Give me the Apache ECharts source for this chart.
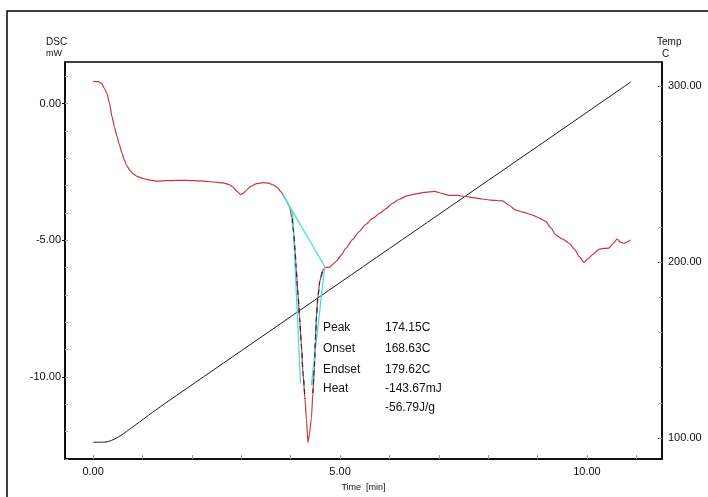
<!DOCTYPE html>
<html><head><meta charset="utf-8">
<script src="https://cdn.jsdelivr.net/npm/echarts@6/dist/echarts.min.js"></script>
<style>html,body{margin:0;padding:0;background:#fff}#c{width:708px;height:497px}</style>
</head><body><div id="c"></div>
<script>
// ---- DSC signal (mW) vs time (min)
const dscTime = [0.00,0.10,0.17,0.23,0.28,0.33,0.38,0.43,0.48,0.53,0.58,0.63,0.68,0.75,0.81,0.90,1.02,1.15,1.29,1.50,1.69,1.90,2.16,2.40,2.63,2.75,2.83,2.92,2.99,3.05,3.10,3.20,3.31,3.44,3.55,3.64,3.72,3.81,3.90,3.98,4.03,4.06,4.09,4.11,4.15,4.18,4.22,4.25,4.29,4.32,4.35,4.38,4.42,4.45,4.48,4.50,4.52,4.55,4.59,4.64,4.69,4.74,4.79,4.85,4.92,5.02,5.12,5.25,5.39,5.52,5.66,5.80,5.93,6.06,6.20,6.35,6.54,6.70,6.91,7.05,7.21,7.38,7.55,7.70,7.88,8.05,8.29,8.42,8.56,8.72,8.90,9.05,9.17,9.27,9.37,9.50,9.64,9.75,9.84,9.94,10.02,10.11,10.24,10.34,10.44,10.53,10.61,10.68,10.75,10.88];
const dscValue = [0.81,0.80,0.74,0.55,0.36,0.02,-0.46,-0.85,-1.18,-1.50,-1.79,-2.05,-2.27,-2.45,-2.57,-2.67,-2.75,-2.80,-2.84,-2.82,-2.81,-2.81,-2.83,-2.86,-2.90,-2.96,-3.05,-3.22,-3.33,-3.27,-3.17,-3.02,-2.93,-2.89,-2.91,-2.97,-3.06,-3.24,-3.50,-3.80,-4.20,-4.70,-5.40,-6.01,-7.00,-7.83,-8.90,-9.88,-10.80,-11.57,-12.40,-12.10,-11.50,-10.60,-9.64,-8.70,-7.83,-7.10,-6.50,-6.15,-6.01,-5.98,-5.99,-5.88,-5.77,-5.55,-5.29,-4.98,-4.68,-4.42,-4.20,-4.02,-3.84,-3.65,-3.50,-3.38,-3.30,-3.25,-3.21,-3.28,-3.36,-3.36,-3.40,-3.44,-3.49,-3.53,-3.56,-3.72,-3.90,-3.98,-4.08,-4.20,-4.32,-4.55,-4.81,-4.95,-5.11,-5.33,-5.59,-5.81,-5.68,-5.53,-5.33,-5.30,-5.29,-5.12,-4.95,-5.07,-5.11,-4.99];
// ---- Temperature (C) vs time (min)
const tempTime  = [0.00,0.24,0.50,0.85,1.20,1.52,3.00,5.00,7.00,9.00,10.89];
const tempValue = [97.7,97.8,100.5,107.4,114.6,121.0,149.6,188.3,227.0,265.6,302.2];
// ---- Analysis construction lines (cyan)
const baseTime = [3.85,4.69];
const baseValue = [-3.36,-5.96];
const onsetTime = [3.85,3.93,4.04,4.20];
const onsetValue = [-3.36,-3.60,-4.00,-10.24];
const endsetTime = [4.69,4.42];
const endsetValue = [-5.95,-10.30];
// integration region shown dashed on the peak flanks
const dashRanges = [[4.03,4.30],[4.45,4.64]];
// ---- Ticks
const xLabelTicks = [0,5,10];
const xMinorTicks = [0,1,2,3,4,5,6,7,8,9,10,11];
const dscLabelTicks = [-10,-5,0];
const dscMinorTicks = [-13,-12,-11,-10,-9,-8,-7,-6,-5,-4,-3,-2,-1,0,1];
const tempLabelTicks = [100,200,300];
const tempMinorTicks = [100,120,140,160,180,200,220,240,260,280,300];
// ---- Result table
const resultNames = ['Peak','Onset','Endset','Heat',''];
const resultValues = ['174.15C','168.63C','179.62C','-143.67mJ','-56.79J/g'];

const zip = (a,b) => a.map((v,i)=>[v,b[i]]);
const dscData = zip(dscTime, dscValue);
const FONT = '"Liberation Sans", Arial, sans-serif';

const X = {min:-0.57, max:11.52};
const YL = {min:-13, max:1.52};
const YR = {min:88.2, max:313.5};

const chart = echarts.init(document.getElementById('c'));
const graphics = [
  {type:'rect', shape:{x:7,y:11,width:720,height:500}, style:{fill:'none',stroke:'#000',lineWidth:1.5}, silent:true},
  {type:'text', left:46, top:37, style:{text:'DSC', font:'10px '+FONT, fill:'#111'}},
  {type:'text', left:46, top:49, style:{text:'mW', font:'9px '+FONT, fill:'#111'}},
  {type:'text', left:657, top:37, style:{text:'Temp', font:'10px '+FONT, fill:'#111'}},
  {type:'text', left:662, top:49, style:{text:'C', font:'10px '+FONT, fill:'#111'}}
];
const rowY = [322,343,364,383,402];
resultNames.forEach((n,i)=>{
  if(n) graphics.push({type:'text', left:323, top:rowY[i], style:{text:n, font:'12px '+FONT, fill:'#111'}});
  graphics.push({type:'text', left:385, top:rowY[i], style:{text:resultValues[i], font:'12px '+FONT, fill:'#111'}});
});

const lineBase = {type:'line', symbol:'none', animation:false, silent:true};
const series = [
  Object.assign({}, lineBase, {name:'Temp', yAxisIndex:1, data:zip(tempTime,tempValue), smooth:0.3, lineStyle:{color:'#1a1a1a', width:1}, z:2}),
  Object.assign({}, lineBase, {name:'DSC', yAxisIndex:0, data:dscData, smooth:0.2, smoothMonotone:'x', lineStyle:{color:'#c8363c', width:1.2}, z:3}),
  Object.assign({}, lineBase, {yAxisIndex:0, data:zip(baseTime,baseValue), lineStyle:{color:'#44e0e0', width:1.3}, z:4}),
  Object.assign({}, lineBase, {yAxisIndex:0, data:zip(onsetTime,onsetValue), lineStyle:{color:'#44e0e0', width:1.3}, z:4}),
  Object.assign({}, lineBase, {yAxisIndex:0, data:zip(endsetTime,endsetValue), lineStyle:{color:'#44e0e0', width:1.3}, z:4})
];
dashRanges.forEach(r=>{
  series.push(Object.assign({}, lineBase, {yAxisIndex:0, data:dscData.filter(p=>p[0]>=r[0]&&p[0]<=r[1]), smooth:0.2, smoothMonotone:'x', lineStyle:{color:'#333', width:1.3, type:[5,4]}, z:5}));
});

const fmt = v => v.toFixed(2);
chart.setOption({
  backgroundColor:'#fff',
  animation:false,
  grid:{left:65, right:46, top:62, bottom:34, show:true, borderColor:'#000', borderWidth:1.5},
  graphic:graphics,
  xAxis:[{
    type:'value', min:X.min, max:X.max,
    axisLine:{show:true, onZero:false, lineStyle:{color:'#000', width:1.5}},
    axisTick:{show:true, inside:true, length:4, customValues:xMinorTicks, lineStyle:{color:'#999'}},
    axisLabel:{customValues:xLabelTicks, formatter:fmt, margin:7, color:'#111', fontSize:11, fontFamily:FONT},
    splitLine:{show:false},
    name:'Time  [min]', nameLocation:'middle', nameGap:24,
    nameTextStyle:{fontSize:9, color:'#111', fontFamily:FONT}
  }],
  yAxis:[{
    type:'value', position:'left', min:YL.min, max:YL.max,
    axisLine:{show:true, onZero:false, lineStyle:{color:'#000', width:1.5}},
    axisTick:{show:true, inside:false, length:3, customValues:dscLabelTicks, lineStyle:{color:'#000'}},
    axisLabel:{customValues:dscLabelTicks, formatter:fmt, margin:4, color:'#111', fontSize:11, fontFamily:FONT},
    splitLine:{show:false}
  },{
    type:'value', position:'right', min:YR.min, max:YR.max,
    axisLine:{show:true, onZero:false, lineStyle:{color:'#000', width:1.5}},
    axisTick:{show:true, inside:true, length:4, customValues:tempLabelTicks, lineStyle:{color:'#000'}},
    axisLabel:{customValues:tempLabelTicks, formatter:fmt, margin:6, color:'#111', fontSize:11, fontFamily:FONT},
    splitLine:{show:false}
  },{
    type:'value', position:'left', min:YL.min, max:YL.max,
    axisLine:{show:false, onZero:false},
    axisTick:{show:true, inside:true, length:3, customValues:dscMinorTicks, lineStyle:{color:'#aaa'}},
    axisLabel:{show:false}, splitLine:{show:false}
  },{
    type:'value', position:'right', min:YR.min, max:YR.max,
    axisLine:{show:false, onZero:false},
    axisTick:{show:true, inside:true, length:3, customValues:tempMinorTicks, lineStyle:{color:'#aaa'}},
    axisLabel:{show:false}, splitLine:{show:false}
  }],
  series:series
});
</script></body></html>
